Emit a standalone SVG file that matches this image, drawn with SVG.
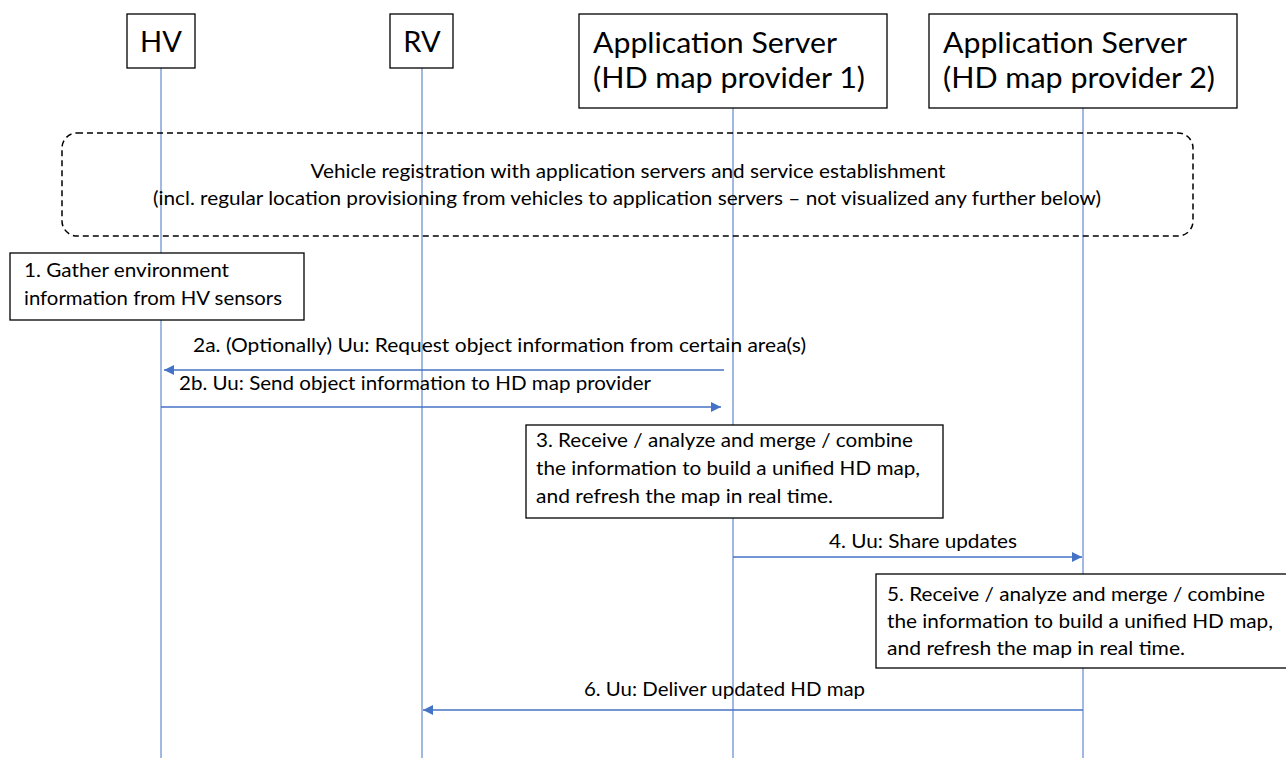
<svg xmlns="http://www.w3.org/2000/svg" width="1286" height="758" viewBox="0 0 1286 758">
  <defs>
    <marker id="arrowhead" viewBox="0 0 10 10" refX="10" refY="5" markerWidth="10" markerHeight="10" markerUnits="userSpaceOnUse" orient="auto">
      <path d="M0,0 L10,5 L0,10 Z" fill="#4472C4"/>
    </marker>
    <style>
      .lifeline { stroke: #4472C4; stroke-width: 1; fill: none; }
      .msg { stroke: #4472C4; stroke-width: 1.3; fill: none; marker-end: url(#arrowhead); }
      .box { fill: #ffffff; stroke: #000000; stroke-width: 1.3; }
      .phase { fill: none; stroke: #000000; stroke-width: 1.5; stroke-dasharray: 6 4; }
      .head { font-family: Lato, "Liberation Sans", sans-serif; font-size: 29px; fill: #000000; }
      .body { font-family: Lato, "Liberation Sans", sans-serif; font-size: 20px; fill: #000000; }
    </style>
  </defs>

  <rect width="1286" height="758" fill="#ffffff"/>

  <!-- lifelines -->
  <g id="lifelines">
    <line class="lifeline" x1="161" y1="68" x2="161" y2="758"/>
    <line class="lifeline" x1="422" y1="68" x2="422" y2="758"/>
    <line class="lifeline" x1="733" y1="108" x2="733" y2="758"/>
    <line class="lifeline" x1="1083" y1="108" x2="1083" y2="758"/>
  </g>

  <!-- participants -->
  <g id="hv">
    <rect class="box" x="127" y="14" width="68" height="54"/>
    <text class="head" x="161" y="52" text-anchor="middle">HV</text>
  </g>
  <g id="rv">
    <rect class="box" x="390" y="14" width="63" height="54"/>
    <text class="head" x="422" y="52" text-anchor="middle">RV</text>
  </g>
  <g id="as1">
    <rect class="box" x="579" y="14" width="308" height="94"/>
    <text class="head" x="593" y="53" textLength="244" lengthAdjust="spacingAndGlyphs">Application Server</text>
    <text class="head" x="593" y="88" textLength="272" lengthAdjust="spacingAndGlyphs">(HD map provider 1)</text>
  </g>
  <g id="as2">
    <rect class="box" x="929" y="14" width="308" height="94"/>
    <text class="head" x="943" y="53" textLength="244" lengthAdjust="spacingAndGlyphs">Application Server</text>
    <text class="head" x="943" y="88" textLength="272" lengthAdjust="spacingAndGlyphs">(HD map provider 2)</text>
  </g>

  <!-- registration phase -->
  <g id="registration">
    <rect class="phase" x="62" y="133" width="1131" height="103" rx="15" ry="15"/>
    <text class="body" x="628" y="178" text-anchor="middle" textLength="635" lengthAdjust="spacingAndGlyphs">Vehicle registration with application servers and service establishment</text>
    <text class="body" x="627" y="205" text-anchor="middle" textLength="948" lengthAdjust="spacingAndGlyphs">(incl. regular location provisioning from vehicles to application servers – not visualized any further below)</text>
  </g>

  <!-- step 1 -->
  <g id="step1">
    <rect class="box" x="10" y="253" width="294" height="67"/>
    <text class="body" x="24" y="277" textLength="205" lengthAdjust="spacingAndGlyphs">1. Gather environment</text>
    <text class="body" x="24" y="305" textLength="258" lengthAdjust="spacingAndGlyphs">information from HV sensors</text>
  </g>

  <!-- step 3 -->
  <g id="step3">
    <rect class="box" x="526" y="425" width="417" height="93"/>
    <text class="body" x="536" y="447" textLength="377" lengthAdjust="spacingAndGlyphs">3. Receive / analyze and merge / combine</text>
    <text class="body" x="536" y="475" textLength="384" lengthAdjust="spacingAndGlyphs">the information to build a unified HD map,</text>
    <text class="body" x="536" y="503" textLength="297" lengthAdjust="spacingAndGlyphs">and refresh the map in real time.</text>
  </g>

  <!-- step 5 (runs past the right edge) -->
  <g id="step5">
    <rect class="box" x="876" y="574" width="420" height="94"/>
    <text class="body" x="887" y="601" textLength="378" lengthAdjust="spacingAndGlyphs">5. Receive / analyze and merge / combine</text>
    <text class="body" x="887" y="628" textLength="386" lengthAdjust="spacingAndGlyphs">the information to build a unified HD map,</text>
    <text class="body" x="887" y="655" textLength="298" lengthAdjust="spacingAndGlyphs">and refresh the map in real time.</text>
  </g>

  <!-- messages -->
  <g id="messages">
    <line class="msg" x1="724" y1="370" x2="164" y2="370"/>
    <text class="body" x="193" y="352" textLength="613" lengthAdjust="spacingAndGlyphs">2a. (Optionally) Uu: Request object information from certain area(s)</text>

    <line class="msg" x1="161" y1="407" x2="721" y2="407"/>
    <text class="body" x="179" y="390" textLength="472" lengthAdjust="spacingAndGlyphs">2b. Uu: Send object information to HD map provider</text>

    <line class="msg" x1="733" y1="557" x2="1082" y2="557"/>
    <text class="body" x="829" y="548" textLength="188" lengthAdjust="spacingAndGlyphs">4. Uu: Share updates</text>

    <line class="msg" x1="1083" y1="710" x2="423" y2="710"/>
    <text class="body" x="584" y="696" textLength="281" lengthAdjust="spacingAndGlyphs">6. Uu: Deliver updated HD map</text>
  </g>
</svg>
